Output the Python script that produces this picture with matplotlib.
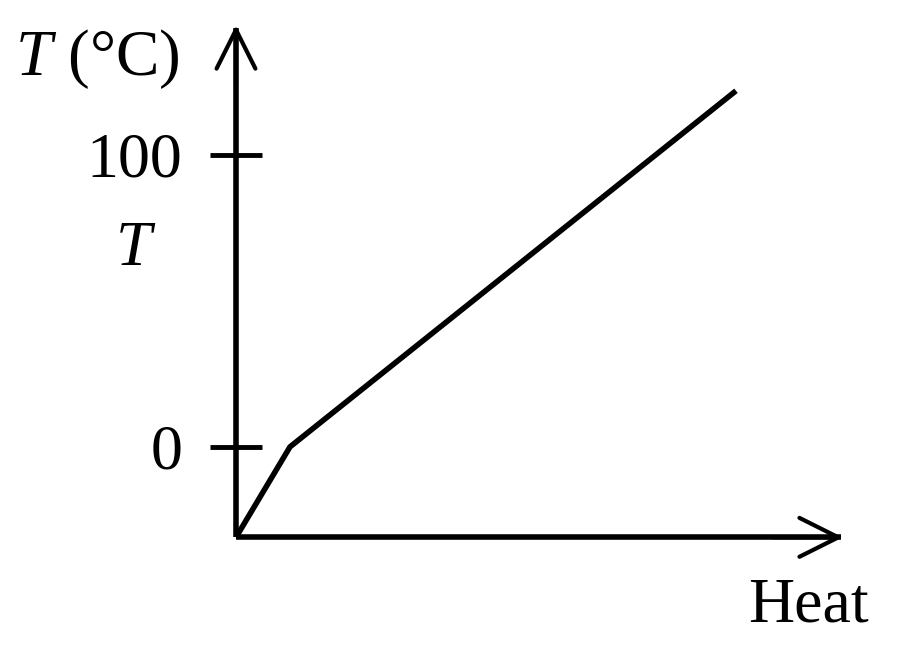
import matplotlib.pyplot as plt

plt.rcParams['font.family'] = ['Liberation Serif', 'DejaVu Serif']
plt.rcParams['mathtext.fontset'] = 'custom'
plt.rcParams['mathtext.rm'] = 'Liberation Serif'
plt.rcParams['mathtext.it'] = 'Liberation Serif:italic'

# heating curve (arbitrary heat units, temperature in deg C)
heat = [0.0, 0.54, 5.0]
temp = [-31, 0, 122]

tick_values = [0, 100]
tick_labels = ['0', '100']

x_tip = 6.07
y_tip = 144.5

fig = plt.figure(figsize=(9, 6.64), dpi=100)
ax = fig.add_axes([0, 0, 1, 1])
ax.set_xlim(-2.36, 6.64)
ax.set_ylim(-74.4, 153.1)

ax.plot(heat, temp, color='black', lw=4, solid_capstyle='butt', solid_joinstyle='round')

# axes as spines through the origin
for side in ['top', 'right']:
    ax.spines[side].set_visible(False)
ax.spines['left'].set_position(('data', 0))
ax.spines['bottom'].set_position(('data', temp[0]))
ax.spines['left'].set_bounds(temp[0], y_tip - 1)
ax.spines['bottom'].set_bounds(0, x_tip - 0.02)
ax.spines['left'].set_linewidth(4)
ax.spines['bottom'].set_linewidth(4)
ax.spines['left'].set_capstyle('butt')
ax.spines['bottom'].set_capstyle('butt')

ax.set_xticks([])
ax.set_yticks(tick_values)
ax.set_yticklabels(tick_labels)
ax.tick_params(axis='y', direction='inout', length=37, width=3.5, pad=20, labelsize=46)

# open arrow heads
arrow = dict(arrowstyle='->, head_length=1.0, head_width=0.5', lw=3, color='black',
             mutation_scale=28, shrinkA=0, shrinkB=0)
ax.annotate('', xy=(0, y_tip), xytext=(0, y_tip - 20), arrowprops=arrow)
ax.annotate('', xy=(x_tip, temp[0]), xytext=(x_tip - 0.7, temp[0]), arrowprops=arrow)

ax.text(-2.21, 127.4, '$T$ (°C)', fontsize=47, ha='left', va='baseline')
ax.text(-1.0, 62.3, '$T$', fontsize=46, ha='center', va='baseline')
ax.text(5.12, -59.9, 'Heat', fontsize=46, ha='left', va='baseline')

fig.savefig('out.png', dpi=100)
